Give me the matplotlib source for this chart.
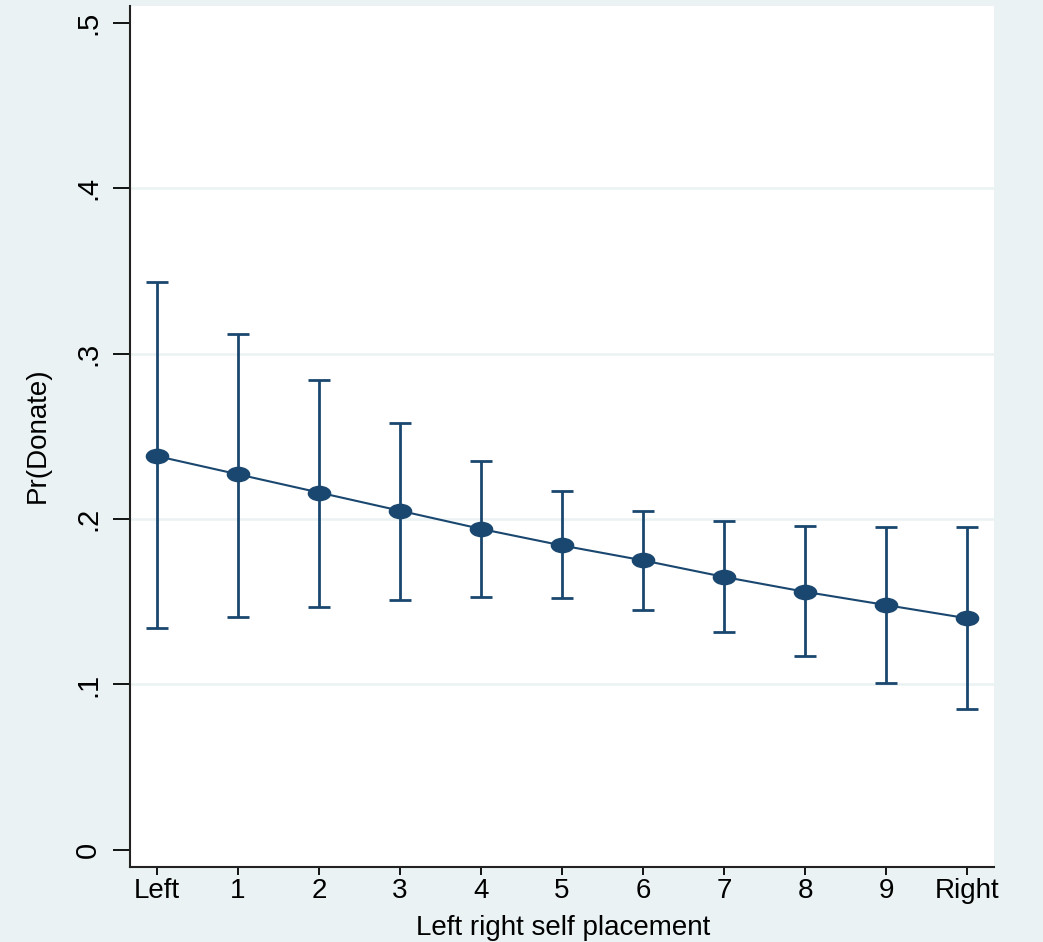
import matplotlib
matplotlib.use('Agg')
import matplotlib.pyplot as plt
import numpy as np
from matplotlib.path import Path
from matplotlib.transforms import Affine2D

# --- Data
categories = ['Left', '1', '2', '3', '4', '5', '6', '7', '8', '9', 'Right']
pr_donate = [0.238, 0.227, 0.216, 0.205, 0.194, 0.184, 0.175, 0.165, 0.156, 0.148, 0.140]
ci_upper = [0.343, 0.312, 0.284, 0.258, 0.235, 0.217, 0.205, 0.199, 0.196, 0.195, 0.195]
ci_lower = [0.134, 0.141, 0.147, 0.151, 0.153, 0.152, 0.145, 0.132, 0.117, 0.101, 0.085]
yticks = [0, 0.1, 0.2, 0.3, 0.4, 0.5]
ytick_labels = ['0', '.1', '.2', '.3', '.4', '.5']

# --- Style
navy = '#1A476F'
bg = '#EAF2F3'
plt.rcParams['font.family'] = ['Liberation Sans', 'DejaVu Sans']

fig = plt.figure(figsize=(10.43, 9.42), dpi=100, facecolor=bg)
ax = fig.add_axes([130 / 1043, 1 - 867 / 942, 864 / 1043, 861 / 942])
ax.set_facecolor('white')

x = np.arange(len(categories))
y = np.array(pr_donate)
yerr = [y - np.array(ci_lower), np.array(ci_upper) - y]

# wide ellipse marker (the original is horizontally stretched)
ellipse = Path.unit_circle().transformed(Affine2D().scale(1.0, 0.64))

for yy in yticks[1:-1]:
    ax.axhline(yy, color=bg, lw=1.8, zorder=0)

ax.errorbar(x, y, yerr=yerr, fmt='none', ecolor=navy, elinewidth=2.0,
            capsize=7.6, capthick=2.0, zorder=2)
ax.plot(x, y, color=navy, lw=1.5, marker=ellipse, ms=16, zorder=3)

ax.set_xlim(-0.333, 10.333)
ax.set_ylim(-0.0103, 0.51)
ax.set_xticks(x)
ax.set_xticklabels(categories, fontsize=20)
ax.set_yticks(yticks)
ax.set_yticklabels(ytick_labels, fontsize=21)

ax.tick_params(axis='y', labelrotation=90, length=12, width=1.3, pad=8)
ax.tick_params(axis='x', length=6, width=1.3, pad=2)
for lab in ax.get_yticklabels():
    lab.set_va('center')

for side in ['top', 'right']:
    ax.spines[side].set_visible(False)
for side in ['left', 'bottom']:
    ax.spines[side].set_linewidth(1.5)
    ax.spines[side].set_color('#222222')

fig.text(38 / 1043, 1 - 435 / 942, 'Pr(Donate)', rotation=90,
         ha='center', va='center', fontsize=20)
fig.text(563 / 1043, 1 / 942, 'Left right self placement',
         ha='center', va='bottom', fontsize=20)

fig.savefig('out.png', dpi=100, facecolor=bg)
